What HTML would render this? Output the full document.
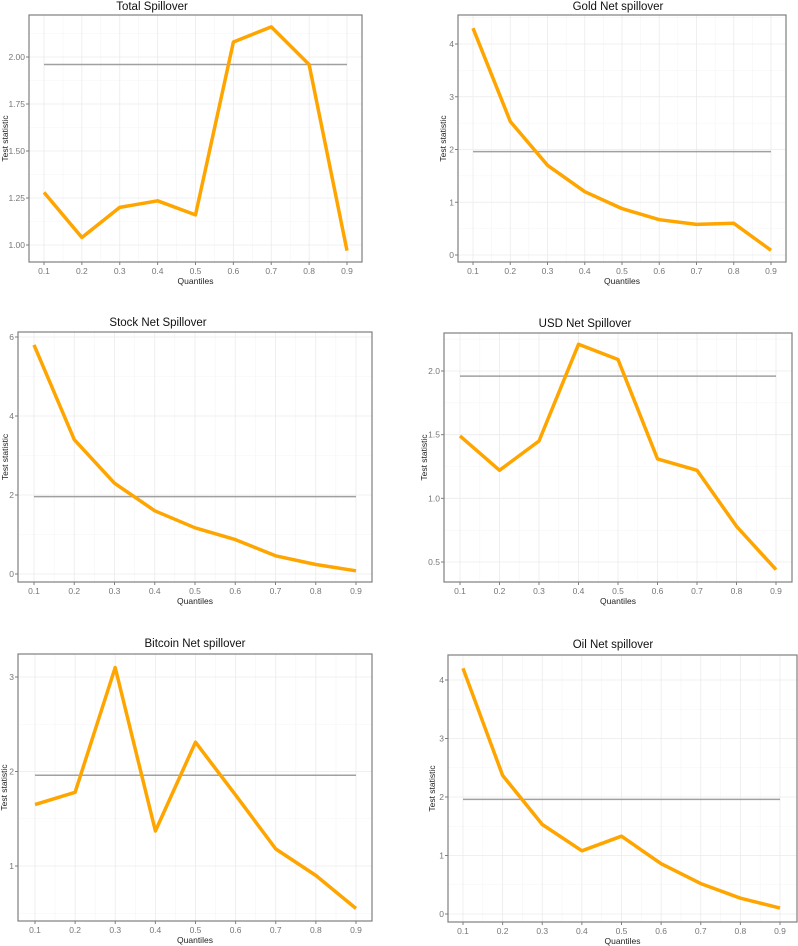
<!DOCTYPE html>
<html><head><meta charset="utf-8"><style>
body{margin:0;background:#fff;}
svg{display:block;font-family:"Liberation Sans",sans-serif;}
</style></head><body>
<svg id="fig" width="798" height="946" viewBox="0 0 798 946"></svg>
<script>
const quantiles=[0.1,0.2,0.3,0.4,0.5,0.6,0.7,0.8,0.9];
const xTickLabels=["0.1","0.2","0.3","0.4","0.5","0.6","0.7","0.8","0.9"];
const totalValues=[1.28,1.04,1.20,1.235,1.16,2.08,2.16,1.96,0.97];
const goldValues=[4.3,2.53,1.7,1.2,0.88,0.67,0.58,0.6,0.09];
const stockValues=[5.8,3.4,2.3,1.6,1.17,0.87,0.46,0.24,0.08];
const usdValues=[1.49,1.22,1.45,2.21,2.09,1.31,1.22,0.78,0.44];
const bitcoinValues=[1.65,1.78,3.1,1.37,2.31,1.75,1.18,0.9,0.55];
const oilValues=[4.2,2.37,1.53,1.08,1.33,0.86,0.52,0.27,0.1];
const totalTicks=[1.00,1.25,1.50,1.75,2.00];
const totalTickLabels=["1.00","1.25","1.50","1.75","2.00"];
const goldTicks=[0,1,2,3,4];
const stockTicks=[0,2,4,6];
const usdTicks=[0.5,1.0,1.5,2.0];
const usdTickLabels=["0.5","1.0","1.5","2.0"];
const bitcoinTicks=[1,2,3];
const oilTicks=[0,1,2,3,4];
const criticalValue=1.96;

const NS="http://www.w3.org/2000/svg";
const svg=document.getElementById('fig');
function mk(tag,attrs,parent){const e=document.createElementNS(NS,tag);for(const k in attrs)e.setAttribute(k,attrs[k]);(parent||svg).appendChild(e);return e;}

const panels=[
 {key:'total',title:'Total Spillover',vals:totalValues,ticks:totalTicks,labels:totalTickLabels,l:29,r:362,t:15,b:262,x0:44,x1:347,va:1,pa:245,vb:2,pb:57,tx:152,ty:10,yt:5},
 {key:'gold',title:'Gold Net spillover',vals:goldValues,ticks:goldTicks,labels:goldTicks.map(String),l:458,r:786,t:15,b:262,x0:473,x1:771,va:0,pa:255,vb:4,pb:44,tx:618,ty:10,yt:443},
 {key:'stock',title:'Stock Net Spillover',vals:stockValues,ticks:stockTicks,labels:stockTicks.map(String),l:18,r:372,t:332,b:582,x0:34,x1:356,va:0,pa:574,vb:6,pb:337,tx:158,ty:326,yt:5},
 {key:'usd',title:'USD Net Spillover',vals:usdValues,ticks:usdTicks,labels:usdTickLabels,l:444,r:792,t:333,b:582,x0:460,x1:776,va:0.5,pa:562,vb:2,pb:371,tx:585,ty:327,yt:424},
 {key:'bitcoin',title:'Bitcoin Net spillover',vals:bitcoinValues,ticks:bitcoinTicks,labels:bitcoinTicks.map(String),l:18,r:372,t:654,b:921,x0:35,x1:356,va:1,pa:866,vb:3,pb:677,tx:195,ty:647,yt:4},
 {key:'oil',title:'Oil Net spillover',vals:oilValues,ticks:oilTicks,labels:oilTicks.map(String),l:448,r:797,t:655,b:922,x0:463,x1:780,va:0,pa:914,vb:4,pb:680,tx:613,ty:648,yt:432}
];

panels.forEach(p=>{
  const g=mk('g',{});
  
  
  const xs=q=>p.x0+(q-0.1)/0.8*(p.x1-p.x0);
  const ys=v=>p.pa+(v-p.va)*(p.pb-p.pa)/(p.vb-p.va);
  const step=p.ticks[1]-p.ticks[0];
  const vTop=p.va+(p.t-p.pa)*(p.vb-p.va)/(p.pb-p.pa);
  for(let v=p.ticks[0]-step*2+step/2;v<vTop+step;v+=step){const y=ys(v);if(y>p.t&&y<p.b)mk('line',{x1:p.l,x2:p.r,y1:y,y2:y,stroke:'#f5f5f5','stroke-width':0.6},g);}
  for(let q=0.05;q<0.96;q+=0.1){const x=xs(q);if(x>p.l&&x<p.r)mk('line',{x1:x,x2:x,y1:p.t,y2:p.b,stroke:'#f5f5f5','stroke-width':0.6},g);}
  p.ticks.forEach(v=>{const y=ys(v);mk('line',{x1:p.l,x2:p.r,y1:y,y2:y,stroke:'#ebebeb','stroke-width':0.8},g);});
  quantiles.forEach(q=>{const x=xs(q);mk('line',{x1:x,x2:x,y1:p.t,y2:p.b,stroke:'#ebebeb','stroke-width':0.8},g);});
  const hl=mk('line',{x1:xs(0.1),x2:xs(0.9),y1:ys(criticalValue),y2:ys(criticalValue),stroke:'#a0a0a0','stroke-width':1.5},g);
  
  
  const pts=p.vals.map((v,i)=>xs(quantiles[i]).toFixed(1)+','+ys(v).toFixed(1)).join(' ');
  const pl=mk('polyline',{points:pts,fill:'none',stroke:'#FFA500','stroke-width':3.5,'stroke-linejoin':'round'},g);
  
  
  const fr=mk('rect',{x:p.l,y:p.t,width:p.r-p.l,height:p.b-p.t,fill:'none',stroke:'#7f7f7f','stroke-width':1.2},g);
  
  
  p.ticks.forEach((v,i)=>{const y=ys(v);
    mk('line',{x1:p.l-3,x2:p.l,y1:y,y2:y,stroke:'#7f7f7f','stroke-width':1},g);
    const t=mk('text',{x:p.l-4,y:y+3,'text-anchor':'end','font-size':8.5,fill:'#777'},g);t.textContent=p.labels[i];
    
    });
  quantiles.forEach((q,i)=>{const x=xs(q);
    mk('line',{x1:x,x2:x,y1:p.b,y2:p.b+3,stroke:'#7f7f7f','stroke-width':1},g);
    const t=mk('text',{x:x,y:p.b+12,'text-anchor':'middle','font-size':8.5,fill:'#777'},g);t.textContent=xTickLabels[i];
    
    });
  const tt=mk('text',{x:p.tx,y:p.ty,'text-anchor':'middle','font-size':11.5,fill:'#111'},g);tt.textContent=p.title;
  
  
  const xl=mk('text',{x:(p.l+p.r)/2,y:p.b+22,'text-anchor':'middle','font-size':8.5,fill:'#222'},g);xl.textContent='Quantiles';
  
  
  const cy=(p.t+p.b)/2;
  const yl=mk('text',{x:p.yt,y:cy,'text-anchor':'middle','font-size':8.5,fill:'#222',transform:'rotate(-90 '+p.yt+' '+cy+')',dy:'0.35em'},g);yl.textContent='Test statistic';
  
  
});
</script>
</body></html>
